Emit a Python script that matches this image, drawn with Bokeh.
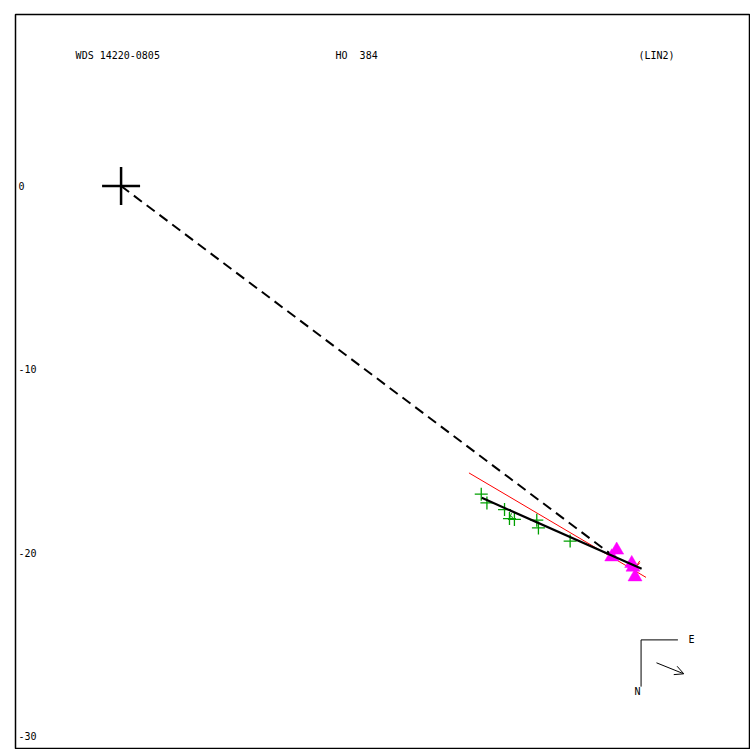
from bokeh.plotting import figure
from bokeh.models import Range1d, Arrow, OpenHead
from bokeh.core.properties import value
from bokeh.embed import file_html
from bokeh.resources import INLINE

# ---- data ----
title_left = "WDS 14220-0805"
title_mid = "HO\u00a0\u00a0384"
title_right = "(LIN2)"

# primary star
prim_x = [0.0]
prim_y = [0.0]

# green crosses (micrometric observations)
obs_x = [19.65, 19.96, 20.92, 21.19, 21.46, 22.68, 22.77, 24.50]
obs_y = [-16.81, -17.29, -17.65, -18.14, -18.19, -18.23, -18.65, -19.37]

# magenta triangles (interferometric observations)
tri_x = [27.04, 26.77, 27.86, 27.93, 28.04]
tri_y = [-19.86, -20.23, -20.59, -20.79, -21.32]

# orbit arc (black solid)
orb_x = [19.68, 28.40]
orb_y = [-17.01, -20.88]

# linear fit (red)
lin_x = [18.98, 28.64]
lin_y = [-15.65, -21.35]

# line from primary to last position (dashed)
node_x = [0.0, 26.85]
node_y = [0.0, -20.18]

# small residual lines
res_g_x0 = [21.19, 21.30]
res_g_y0 = [-18.14, -18.00]
res_g_x1 = [21.30, 21.40]
res_g_y1 = [-17.85, -18.20]
res_r_x0 = [28.05, 28.30]
res_r_y0 = [-20.85, -20.45]
res_r_x1 = [28.30, 28.10]
res_r_y1 = [-20.55, -20.75]

yticks = [0, -10, -20, -30]
ytick_labels = ["0", "-10", "-20", "-30"]

# view window
x_lo, x_hi = -5.76, 34.34
y_lo, y_hi = -30.74, 9.36

FONT = value("DejaVu Sans Mono")

p = figure(width=750, height=749, output_backend="svg", toolbar_location=None,
           x_range=Range1d(x_lo, x_hi), y_range=Range1d(y_lo, y_hi),
           x_axis_location=None, y_axis_location=None,
           min_border_left=15, min_border_top=14, min_border_right=0, min_border_bottom=0)
p.grid.visible = False
p.outline_line_color = "black"
p.outline_line_width = 1.5
p.background_fill_color = "white"
p.border_fill_color = "white"

# tick labels drawn inside the frame
p.text(x=[x_lo] * len(yticks), y=yticks, text=ytick_labels, x_offset=3,
       text_font=FONT, text_font_size="10px", text_baseline="middle",
       text_align="left", text_color="black")

# titles
p.text(x=[-2.48], y=[7.12], text=[title_left], text_font=FONT, text_font_size="10px",
       text_baseline="middle", text_align="left", text_color="black")
p.text(x=[11.70], y=[7.12], text=[title_mid], text_font=FONT, text_font_size="10px",
       text_baseline="middle", text_align="left", text_color="black")
p.text(x=[28.23], y=[7.12], text=[title_right], text_font=FONT, text_font_size="10px",
       text_baseline="middle", text_align="left", text_color="black")

# lines
p.line(node_x, node_y, line_color="black", line_width=2, line_dash="10 6")
p.line(lin_x, lin_y, line_color="red", line_width=1)
p.segment(res_g_x0, res_g_y0, res_g_x1, res_g_y1, line_color="#00a000", line_width=1)
p.segment(res_r_x0, res_r_y0, res_r_x1, res_r_y1, line_color="red", line_width=1)

# observations
p.scatter(obs_x, obs_y, marker="cross", size=13, line_color="#00a000", line_width=1.3)
p.scatter(tri_x, tri_y, marker="triangle", size=14, fill_color="#ff00ff",
          line_color="#ff00ff", line_width=0.5)
p.line(orb_x, orb_y, line_color="black", line_width=2.2)

# primary
p.scatter(prim_x, prim_y, marker="cross", size=38, line_color="black", line_width=2.5)

# compass
cx, cy = 28.37, -24.76
p.line([cx, 30.38], [cy, cy], line_color="black", line_width=1)
p.line([cx, cx], [cy, -27.31], line_color="black", line_width=1)
p.text(x=[30.96], y=[cy], text=["E"], text_font=FONT, text_font_size="10px",
       text_baseline="middle", text_align="left", text_color="black")
p.text(x=[cx - 0.2], y=[-27.56], text=["N"], text_font=FONT, text_font_size="10px",
       text_baseline="middle", text_align="center", text_color="black")
p.add_layout(Arrow(x_start=29.21, y_start=-26.01, x_end=30.70, y_end=-26.61,
                   line_color="black", line_width=1,
                   end=OpenHead(size=9, line_color="black", line_width=1)))

open("out.html", "w").write(file_html(p, INLINE))
